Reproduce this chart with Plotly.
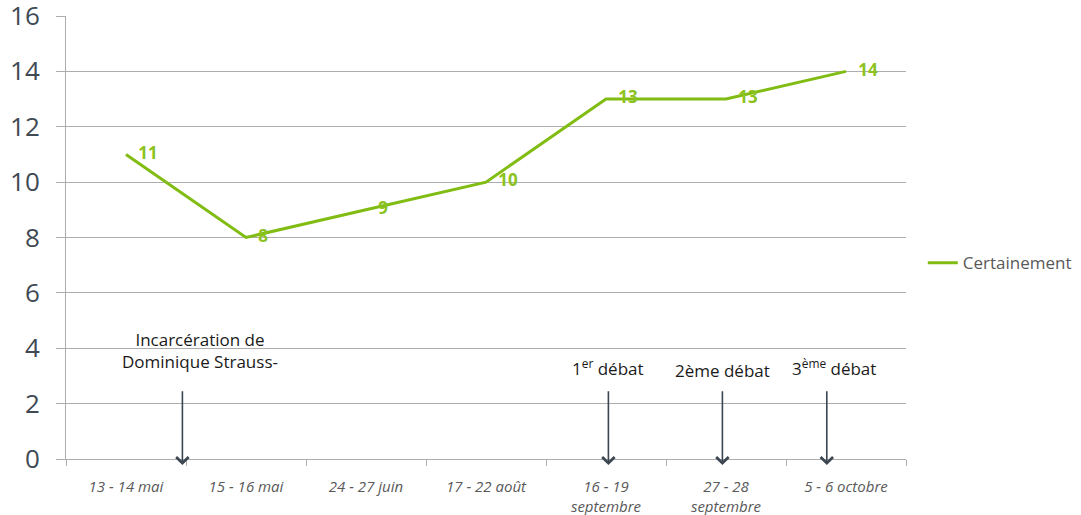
import plotly.graph_objects as go

categories = ["13 - 14 mai", "15 - 16 mai", "24 - 27 juin", "17 - 22 août",
              "16 - 19<br>septembre", "27 - 28<br>septembre", "5 - 6 octobre"]
certainement = [11, 8, 9, 10, 13, 13, 14]
value_labels = [str(v) for v in certainement]
y_ticks = [0, 2, 4, 6, 8, 10, 12, 14, 16]

# event annotations: (category index position, text y, arrow tail y, text)
events_x = [0.47, 4.02, 4.97, 5.84]
events_text_x = [0.62, 4.02, 4.97, 5.9]
events_text = ["Incarcération de<br>Dominique Strauss-",
               "1<sup>er</sup> débat", "2ème débat", "3<sup>ème</sup> débat"]
events_text_y = [3.93, 3.3, 3.2, 3.3]
arrow_tail_y = 2.5
arrow_head_y = -0.22

GREEN = "#80BC12"
GRID = "#ADADAD"
FONT = "'Open Sans', sans-serif"

fig = go.Figure()
fig.add_trace(go.Scatter(
    x=categories, y=certainement, mode="lines+markers+text",
    name="Certainement",
    line=dict(color=GREEN, width=3),
    marker=dict(size=18, color="rgba(0,0,0,0)", line=dict(width=0)),
    text=value_labels, textposition="middle right",
    textfont=dict(color="#8BC220", size=17, family=FONT, weight="bold"),
    cliponaxis=False,
))

annotations = []
for xa, xt, yt, t in zip(events_x, events_text_x, events_text_y, events_text):
    annotations.append(dict(
        x=xa, y=arrow_head_y, ax=xa, ay=arrow_tail_y,
        xref="x", yref="y", axref="x", ayref="y",
        showarrow=True, arrowhead=4, arrowsize=1.5, arrowwidth=1.6,
        arrowcolor="#3B4650", text="",
    ))
    annotations.append(dict(
        x=xt, y=yt, xref="x", yref="y", text=t, showarrow=False,
        font=dict(family=FONT, size=17, color="#1A1A1A"),
        align="center", xanchor="center", yanchor="middle",
    ))

fig.update_layout(
    width=1081, height=515,
    margin=dict(l=66, r=175, t=16, b=56, autoexpand=False),
    paper_bgcolor="white", plot_bgcolor="white",
    font=dict(family=FONT),
    showlegend=True,
    legend=dict(x=1.02, y=0.442, xanchor="left", yanchor="middle",
                font=dict(size=17, color="#595959", family=FONT),
                bgcolor="rgba(0,0,0,0)"),
    annotations=annotations,
    xaxis=dict(
        type="category", range=[-0.5, 6.5], tickson="boundaries",
        ticks="outside", ticklen=6, tickcolor=GRID, automargin=False,
        showline=True, linecolor=GRID, linewidth=1,
        showgrid=False, zeroline=False,
        tickfont=dict(size=15, color="#595959", family=FONT, style="italic"),
        ticklabelstandoff=14, ticklabeloverflow="allow",
    ),
    yaxis=dict(
        range=[0, 16], tickvals=y_ticks, automargin=False,
        ticks="outside", ticklen=9, tickcolor=GRID,
        showline=True, linecolor=GRID, linewidth=1,
        showgrid=True, gridcolor=GRID, gridwidth=1, zeroline=False,
        tickfont=dict(size=26, color="#404A54", family=FONT),
        ticklabelstandoff=11, ticklabeloverflow="allow",
    ),
)

fig.write_html("out.html", config={"displayModeBar": False},
               post_script="document.body.style.margin='0';")
